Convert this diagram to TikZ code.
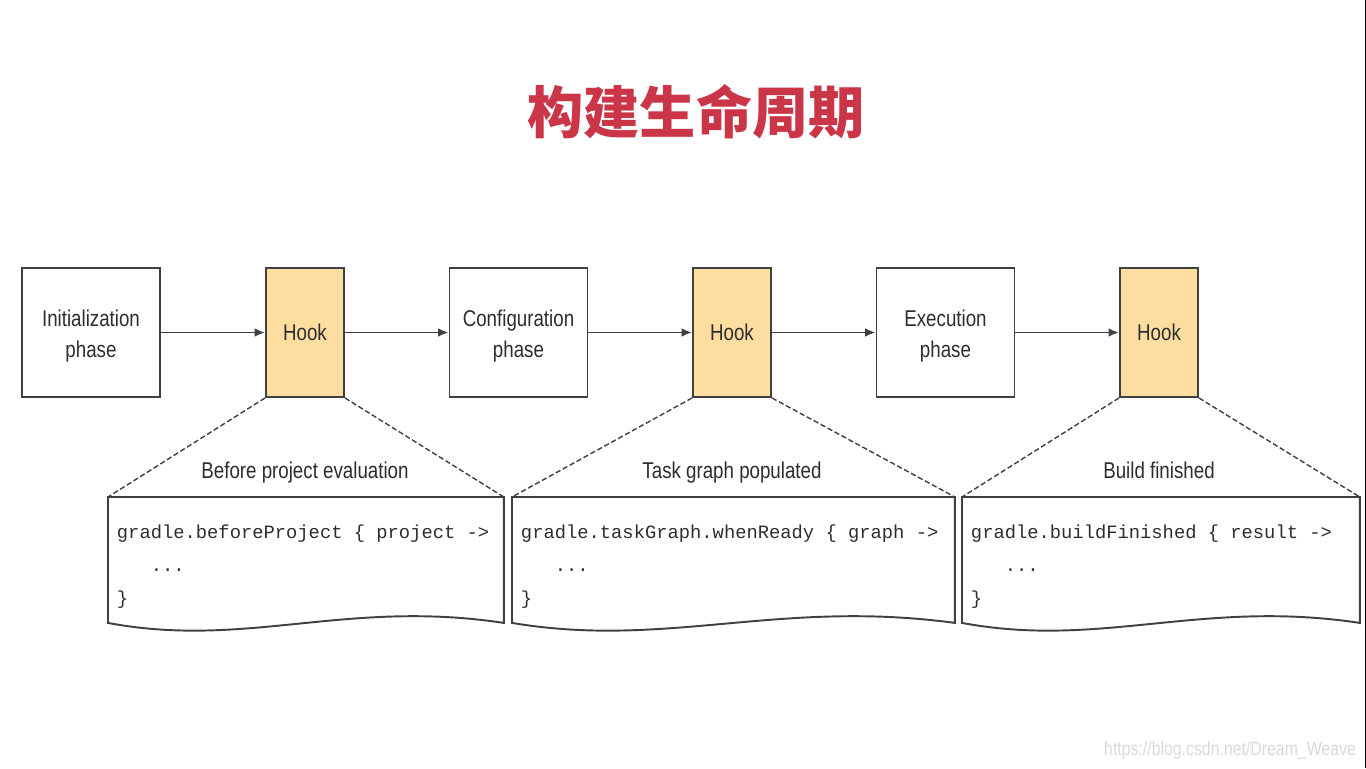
\documentclass[tikz,border=0pt]{standalone}
\usepackage{fontspec}
\usetikzlibrary{arrows.meta,calc}
\newfontfamily\labelfont[FakeStretch=0.82]{Liberation Sans}
\newfontfamily\codefont{Liberation Mono}
\newfontfamily\titlefont{Noto Sans CJK SC}
\definecolor{hookfill}{RGB}{254,222,160}
\definecolor{titlered}{RGB}{203,53,72}
\definecolor{edge}{RGB}{64,64,64}
\definecolor{ink}{RGB}{45,45,45}
% wavy bottom of a code sheet
\newcommand\docsheet[1]{%
  \draw[edge,line width=1.1pt] (#1.north west) -- (#1.north east) -- (#1.south east)
    .. controls ($(#1.south east)!.4!(#1.south west)+(0,-24)$) and ($(#1.south east)!.65!(#1.south west)+(0,26)$) .. (#1.south west) -- cycle;}
\newcommand\topstrut{\rule{0pt}{14pt}}
\begin{document}
\begin{tikzpicture}[x=.02cm,y=-.02cm,line width=1.1pt,
  every node/.style={font=\labelfont\fontsize{13}{17.6}\selectfont,text=ink,inner sep=1pt},
  phase/.style={draw=edge,minimum width=2.76cm,minimum height=2.58cm,align=center},
  hook/.style={phase,fill=hookfill,minimum width=1.56cm},
  flow/.style={draw=edge,-{Latex[length=6pt,width=5pt]}},
  zoomline/.style={draw=edge,line width=.8pt,dash pattern=on 3pt off 1.5pt},
  sheet/.style={anchor=north west,minimum height=2.48cm,inner sep=0pt},
  event/.style={anchor=base},
  code/.style={font=\codefont\fontsize{10.7}{18.7}\selectfont,align=left,anchor=north west,inner sep=0pt}]
  \path[use as bounding box] (0,0) rectangle (1366,768);
  \fill[black] (1364.5,0) rectangle (1366,768);
  \node[font=\titlefont\bfseries\fontsize{32}{38}\selectfont,text=titlered] (title) at (696,112) {构建生命周期};
  % phases and hooks
  \node[phase] (init) at (91,332.5) {\topstrut Initialization\\phase};
  \node[hook] (hook1) at (305,332.5) {Hook};
  \node[phase] (config) at (518.5,332.5) {\topstrut Configuration\\phase};
  \node[hook] (hook2) at (732,332.5) {Hook};
  \node[phase] (exec) at (945.5,332.5) {\topstrut Execution\\phase};
  \node[hook] (hook3) at (1159,332.5) {Hook};
  \draw[flow] (init) -- (hook1);
  \draw[flow] (hook1) -- (config);
  \draw[flow] (config) -- (hook2);
  \draw[flow] (hook2) -- (exec);
  \draw[flow] (exec) -- (hook3);
  % code sheets
  \node[sheet,minimum width=7.88cm] (doc1) at (108,497) {};
  \node[sheet,minimum width=8.82cm] (doc2) at (512,497) {};
  \node[sheet,minimum width=7.92cm] (doc3) at (962,497) {};
  \docsheet{doc1}
  \docsheet{doc2}
  \docsheet{doc3}
  \draw[zoomline] (hook1.south west) -- (doc1.north west);
  \draw[zoomline] (hook1.south east) -- (doc1.north east);
  \draw[zoomline] (hook2.south west) -- (doc2.north west);
  \draw[zoomline] (hook2.south east) -- (doc2.north east);
  \draw[zoomline] (hook3.south west) -- (doc3.north west);
  \draw[zoomline] (hook3.south east) -- (doc3.north east);
  \node[event] (event1) at (305,478) {Before project evaluation};
  \node[event] (event2) at (732,478) {Task graph populated};
  \node[event] (event3) at (1159,478) {Build finished};
  \node[code] (code1) at ([shift={(8,27)}]doc1.north west) {gradle.beforeProject \{ project ->\\\phantom{000}...\\\}};
  \node[code] (code2) at ([shift={(8,27)}]doc2.north west) {gradle.taskGraph.whenReady \{ graph ->\\\phantom{000}...\\\}};
  \node[code] (code3) at ([shift={(8,27)}]doc3.north west) {gradle.buildFinished \{ result ->\\\phantom{000}...\\\}};
  \node[font=\labelfont\fontsize{11}{13}\selectfont,text=black!15] (mark) at (1230,750) {https://blog.csdn.net/Dream\_Weave};
\end{tikzpicture}
\end{document}
